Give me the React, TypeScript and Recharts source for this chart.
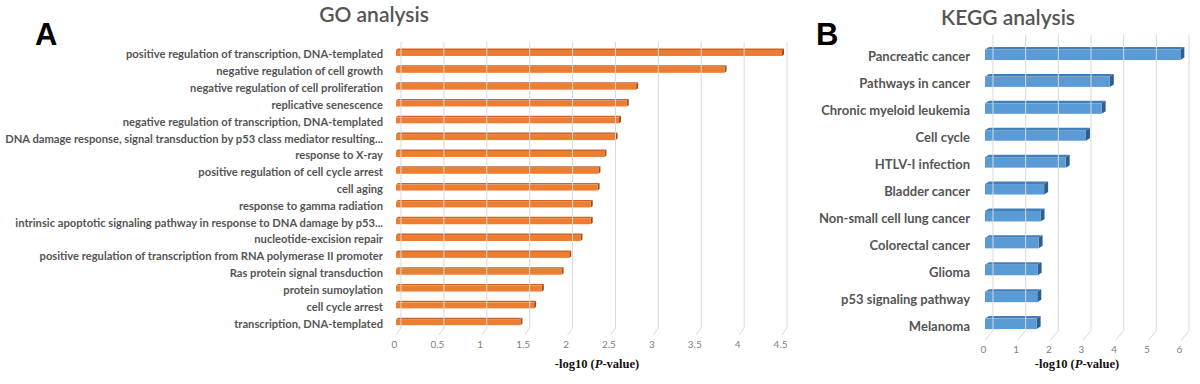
import React from 'react';
import { BarChart, Bar, XAxis, YAxis, ReferenceLine } from 'recharts';

const goTerms = [
  'positive regulation of transcription, DNA-templated',
  'negative regulation of cell growth',
  'negative regulation of cell proliferation',
  'replicative senescence',
  'negative regulation of transcription, DNA-templated',
  'DNA damage response, signal transduction by p53 class mediator resulting...',
  'response to X-ray',
  'positive regulation of cell cycle arrest',
  'cell aging',
  'response to gamma radiation',
  'intrinsic apoptotic signaling pathway in response to DNA damage by p53...',
  'nucleotide-excision repair',
  'positive regulation of transcription from RNA polymerase II promoter',
  'Ras protein signal transduction',
  'protein sumoylation',
  'cell cycle arrest',
  'transcription, DNA-templated',
];
const goValues = [4.5, 3.83, 2.8, 2.69, 2.6, 2.56, 2.43, 2.36, 2.35, 2.27, 2.27, 2.15, 2.02, 1.93, 1.7, 1.61, 1.45];
const goTicks = [0, 0.5, 1, 1.5, 2, 2.5, 3, 3.5, 4, 4.5];

const keggTerms = [
  'Pancreatic cancer',
  'Pathways in cancer',
  'Chronic myeloid leukemia',
  'Cell cycle',
  'HTLV-I infection',
  'Bladder cancer',
  'Non-small cell lung cancer',
  'Colorectal cancer',
  'Glioma',
  'p53 signaling pathway',
  'Melanoma',
];
const keggValues = [5.98, 3.82, 3.57, 3.09, 2.47, 1.81, 1.7, 1.64, 1.61, 1.6, 1.58];
const keggTicks = [0, 1, 2, 3, 4, 5, 6];

const goData = goTerms.map((term, i) => ({ term, value: goValues[i] }));
const keggData = keggTerms.map((term, i) => ({ term, value: keggValues[i] }));

const make3D = (front: string, top: string, side: string, dx: number, dy: number) => (p: any) => {
  const { x, y, width, height } = p;
  if (width == null || height == null) return <g />;
  return (
    <g>
      <polygon
        points={`${x},${y} ${x + dx},${y - dy} ${x + width + dx},${y - dy} ${x + width},${y}`}
        fill={top}
      />
      <polygon
        points={`${x + width},${y} ${x + width + dx},${y - dy} ${x + width + dx},${y + height - dy} ${x + width},${y + height}`}
        fill={side}
      />
      <rect x={x} y={y} width={width} height={height} fill={front} />
    </g>
  );
};

const gridShape = (dx: number, topExt: number, botUp: number, botDown: number) => (p: any) => {
  const x = p.x1;
  const yTop = Math.min(p.y1, p.y2);
  const yBot = Math.max(p.y1, p.y2);
  return (
    <polyline
      points={`${x + dx},${yTop - topExt} ${x + dx},${yBot - botUp} ${x},${yBot + botDown}`}
      fill="none"
      stroke="#d9d9d9"
      strokeWidth={1}
    />
  );
};

const makeXTick = (dxShift: number) => (p: any) => (
  <text
    x={p.x + dxShift}
    y={p.y}
    dy="0.71em"
    textAnchor="middle"
    fontFamily="Lato"
    fontSize={10}
    fill="#808080"
  >
    {p.payload.value}
  </text>
);

const makeYTick = (fontSize: number, dy: number) => (p: any) => (
  <text
    x={p.x}
    y={p.y}
    dy={dy}
    textAnchor="end"
    fontFamily="Lato"
    fontWeight={700}
    fontSize={fontSize}
    fill="#555"
  >
    {p.payload.value}
  </text>
);

const goShape = make3D('#ED7D31', '#C9652A', '#9E4E1C', 2, 1.5);
const keggShape = make3D('#5B9BD5', '#3F7FBA', '#2C5F8E', 4, 2.5);
const goGrid = gridShape(5, 3, 3, 4);
const keggGrid = gridShape(8, 6.5, 7, 3);

const AxisTitle = ({ cx, y }: { cx: number; y: number }) => (
  <text x={cx} y={y} textAnchor="middle" fontFamily="Liberation Serif" fontWeight={700} fontSize={12.5} fill="#111">
    <tspan>-log10 (</tspan>
    <tspan fontStyle="italic">P</tspan>
    <tspan>-value)</tspan>
  </text>
);

export default function App() {
  return (
    <div style={{ position: 'absolute', left: 0, top: 0, width: 1200, height: 384, background: '#fff', overflow: 'hidden' }}>
      <div style={{ position: 'absolute', left: 0, top: 0 }}>
        <BarChart
          width={800}
          height={384}
          data={goData}
          layout="vertical"
          margin={{ top: 45, right: 18, left: 0, bottom: 0 }}
        >
          <XAxis
            type="number"
            domain={[0, 4.5]}
            ticks={goTicks}
            axisLine={false}
            tickLine={false}
            tickSize={0}
            tickMargin={10}
            height={53}
            tick={makeXTick(-1.5)}
            interval={0}
          />
          <YAxis
            type="category"
            dataKey="term"
            width={396}
            axisLine={false}
            tickLine={false}
            tickSize={0}
            tickMargin={13}
            interval={0}
            tick={makeYTick(11.2, 5)}
          />
          {goTicks.map((t) => (
            <ReferenceLine key={t} x={t} shape={goGrid} />
          ))}
          <Bar dataKey="value" isAnimationActive={false} shape={goShape} barSize={6} />
        </BarChart>
      </div>
      <div style={{ position: 'absolute', left: 800, top: 0 }}>
        <BarChart
          width={400}
          height={384}
          data={keggData}
          layout="vertical"
          margin={{ top: 41.5, right: 19, left: 0, bottom: 0 }}
        >
          <XAxis
            type="number"
            domain={[0, 6]}
            ticks={keggTicks}
            axisLine={false}
            tickLine={false}
            tickSize={0}
            tickMargin={8.5}
            height={46.5}
            tick={makeXTick(-1.5)}
            interval={0}
          />
          <YAxis
            type="category"
            dataKey="term"
            width={185}
            axisLine={false}
            tickLine={false}
            tickSize={0}
            tickMargin={15}
            interval={0}
            tick={makeYTick(13, 6.5)}
          />
          {keggTicks.map((t) => (
            <ReferenceLine key={t} x={t} shape={keggGrid} />
          ))}
          <Bar dataKey="value" isAnimationActive={false} shape={keggShape} barSize={10.5} />
        </BarChart>
      </div>
      <svg
        width={1200}
        height={384}
        style={{ position: 'absolute', left: 0, top: 0, pointerEvents: 'none' }}
      >
        <text x={35} y={45} fontFamily="Liberation Sans" fontWeight={700} fontSize={31} fill="#000">A</text>
        <text x={816} y={45} fontFamily="Liberation Sans" fontWeight={700} fontSize={31} fill="#000">B</text>
        <text x={374} y={22} textAnchor="middle" fontFamily="Lato" fontWeight={600} fontSize={21} fill="#555">GO analysis</text>
        <text x={1008} y={25} textAnchor="middle" fontFamily="Lato" fontWeight={600} fontSize={21} fill="#555">KEGG analysis</text>
        <AxisTitle cx={597} y={368} />
        <AxisTitle cx={1077} y={368} />
      </svg>
    </div>
  );
}
